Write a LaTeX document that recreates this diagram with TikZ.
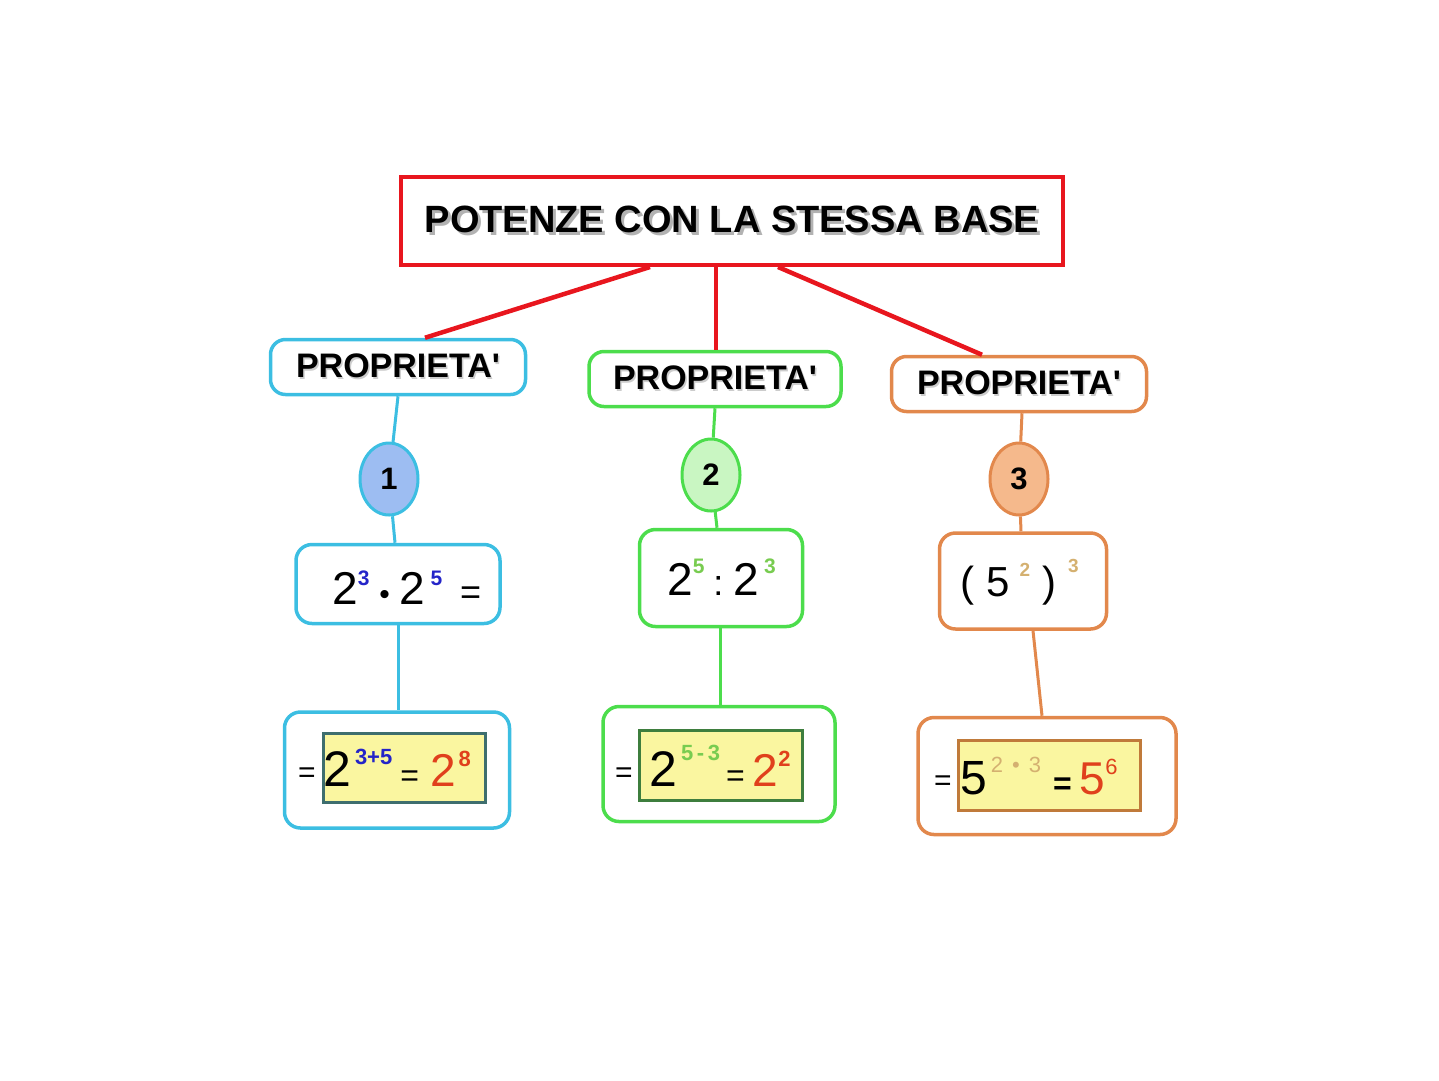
\documentclass[tikz,border=0pt]{standalone}
\usepackage{fontspec}
\setmainfont{Liberation Sans}
\usetikzlibrary{shapes.geometric}
\definecolor{cR}{HTML}{E8161E}
\definecolor{cC}{HTML}{3CBEE2}
\definecolor{cG}{HTML}{4CDD4C}
\definecolor{cO}{HTML}{E2884C}
\definecolor{fB}{HTML}{9DBDF2}
\definecolor{fG}{HTML}{C9F6C2}
\definecolor{fO}{HTML}{F5B98C}
\definecolor{yel}{HTML}{FAF6A0}
\definecolor{supB}{HTML}{2424C8}
\definecolor{supG}{HTML}{78CC50}
\definecolor{supT}{HTML}{D4B070}
\definecolor{resR}{HTML}{E0401C}
\definecolor{inC}{HTML}{3E6E6E}
\definecolor{inG}{HTML}{3E7E3E}
\definecolor{inO}{HTML}{C07A3A}
\newcommand\fsz[1]{\fontsize{#1}{#1}\selectfont}
\newcommand\supx[4]{\raisebox{#1pt}{\fsz{#2}\bfseries\color{#3}#4}}
\newcommand\supl[4]{\raisebox{#1pt}{\fsz{#2}\color{#3}#4}}
\newcommand\shtext[3]{\rlap{\hspace{#1pt}\raisebox{-#1pt}{\color{black!#2}#3}}#3}
\begin{document}
\begin{tikzpicture}[x=1pt,y=-1pt,
  titlebox/.style={draw=cR,line width=4pt,minimum width=662pt,minimum height=88pt,inner sep=0pt,font=\fsz{38}\bfseries},
  propbox/.style={draw=#1,line width=3.5pt,rounded corners=15pt,minimum height=55pt,inner sep=0pt,font=\fsz{34}\bfseries},
  numnode/.style={ellipse,draw=#1,line width=3pt,minimum width=58pt,minimum height=72pt,inner sep=0pt,font=\fsz{31}\bfseries},
  fbox/.style={draw=#1,line width=3.5pt,rounded corners=16pt,inner sep=0pt},
  ybox/.style={draw=#1,fill=yel,line width=3pt,inner sep=0pt},
  redline/.style={draw=cR,line width=4.5pt},
  link/.style={draw=#1,line width=3pt},
  txt/.style={inner sep=0pt,anchor=base west}
]
\useasboundingbox (0,0) rectangle (1439,1080);

% title
\node[titlebox] (title) at (732,221) {\raisebox{2pt}{\shtext{3}{30}{POTENZE CON LA STESSA BASE}}};

% property boxes
\node[propbox=cC,minimum width=255pt] (p1) at (398,367) {\shtext{1.5}{20}{PROPRIETA\textquotesingle}};
\node[propbox=cG,minimum width=252pt] (p2) at (715,379) {\shtext{1.5}{20}{PROPRIETA\textquotesingle}};
\node[propbox=cO,minimum width=255pt] (p3) at (1019,384) {\shtext{1.5}{20}{PROPRIETA\textquotesingle}};

% red connectors
\draw[redline] ([xshift=-82pt]title.south) -- ([xshift=27pt]p1.north);
\draw[redline] ([xshift=-16pt]title.south) -- ([xshift=1pt]p2.north);
\draw[redline] ([xshift=46pt]title.south) -- ([xshift=-37pt]p3.north);

% number ellipses
\node[numnode=cC,fill=fB] (n1) at (389,479) {1};
\node[numnode=cG,fill=fG] (n2) at (711,475) {2};
\node[numnode=cO,fill=fO] (n3) at (1019,479) {3};

% formula boxes
\node[fbox=cC,minimum width=204pt,minimum height=79pt] (f1) at (398,584) {};
\node[fbox=cG,minimum width=163pt,minimum height=97pt] (f2) at (721,578) {};
\node[fbox=cO,minimum width=167pt,minimum height=96pt] (f3) at (1023,581) {};

% result boxes
\node[fbox=cC,minimum width=225pt,minimum height=116pt] (r1) at (397,770) {};
\node[fbox=cG,minimum width=232pt,minimum height=115pt] (r2) at (719,764) {};
\node[fbox=cO,minimum width=258pt,minimum height=117pt] (r3) at (1047,776) {};
\node[ybox=inC,minimum width=162pt,minimum height=69pt] (y1) at (404,768) {};
\node[ybox=inG,minimum width=163pt,minimum height=70pt] (y2) at (721,765) {};
\node[ybox=inO,minimum width=182pt,minimum height=70pt] (y3) at (1049,775) {};

% connectors
\draw[link=cC] (p1.south) -- (n1);
\draw[link=cC] (n1) -- ([xshift=-3pt]f1.north);
\draw[link=cC] (f1.south) -- ([xshift=1pt]r1.north);
\draw[link=cG] (p2.south) -- (n2);
\draw[link=cG] (n2) -- ([xshift=-4pt]f2.north);
\draw[link=cG] ([xshift=-1pt]f2.south) -- ([xshift=1pt]r2.north);
\draw[link=cO] ([xshift=3pt]p3.south) -- (n3);
\draw[link=cO] (n3) -- ([xshift=-2pt]f3.north);
\draw[link=cO] ([xshift=10pt]f3.south) -- ([xshift=-5pt]r3.north);

% formula texts
\node[txt] (ft1) at (332,604) {\fsz{46}2\supx{19}{21}{supB}{3}\hspace{10pt}{\fsz{30}\textbullet}\hspace{10pt}2\hspace{5pt}\supx{19}{21}{supB}{5}\hspace{18pt}{\fsz{36}=}};
\node[txt] (ft2) at (667,595) {\fsz{46}2\supx{22}{21}{supG}{5}\hspace{9pt}{\fsz{36}:}\hspace{10pt}2\hspace{5pt}\supx{22}{21}{supG}{3}};
\node[txt] (ft3) at (960,596) {\fsz{42}(\hspace{12pt}5\hspace{10pt}\supx{20}{19}{supT}{2}\hspace{12pt})\hspace{12pt}\supx{24}{19}{supT}{3}};

% result texts
\node[txt] (re1) at (298,782) {\fsz{30}=};
\node[txt] (rt1) at (323,786) {\fsz{50}2\hspace{4pt}\supx{22}{22}{supB}{3+5}\hspace{8pt}{\fsz{32}=}\hspace{11pt}{\fsz{46}\color{resR}2\hspace{3pt}\supx{20}{22}{resR}{8}}};
\node[txt] (re2) at (615,782) {\fsz{30}=};
\node[txt] (rt2) at (649,786) {\fsz{50}2\hspace{4pt}\supx{26}{22}{supG}{5\,-\,3}\hspace{6pt}{\fsz{32}=}\hspace{8pt}{\fsz{46}\color{resR}2\supx{20}{22}{resR}{2}}};
\node[txt] (re3) at (934,790) {\fsz{30}=};
\node[txt] (rt3) at (960,794) {\fsz{48}5\hspace{4pt}\supl{22}{22}{supT}{2\hspace{9pt}\textbullet\hspace{9pt}3}\hspace{12pt}{\fsz{32}\bfseries=}\hspace{8pt}{\fsz{46}\color{resR}5\supl{20}{22}{resR}{6}}};
\end{tikzpicture}
\end{document}
